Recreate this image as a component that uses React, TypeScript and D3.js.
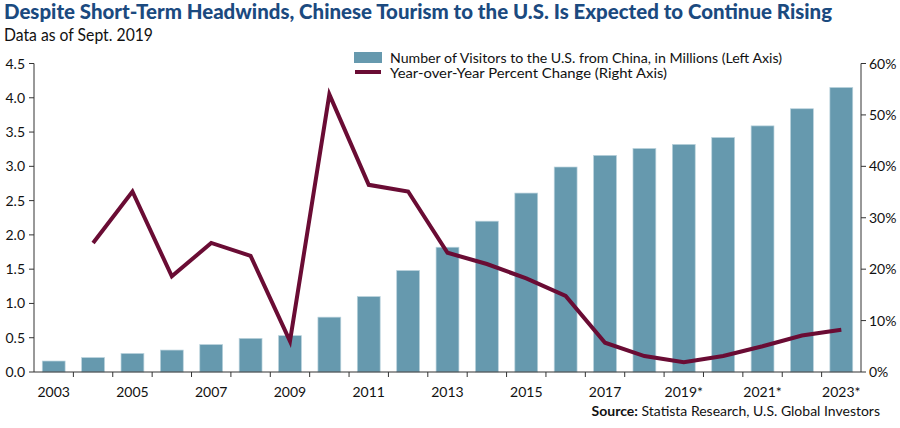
import React from "react";
import * as d3 from "d3";

const years = ["2003","2004","2005","2006","2007","2008","2009","2010","2011","2012","2013","2014","2015","2016","2017","2018","2019","2020","2021","2022","2023"];
const xLabels = ["2003","","2005","","2007","","2009","","2011","","2013","","2015","","2017","","2019*","","2021*","","2023*"];
const visitors = [0.16,0.21,0.27,0.32,0.40,0.49,0.53,0.80,1.10,1.48,1.82,2.20,2.61,2.99,3.16,3.26,3.32,3.42,3.59,3.84,4.15];
const pctChange: (number | null)[] = [null,25.1,35.1,18.6,25.1,22.6,6.0,54.0,36.4,35.1,23.2,21.0,18.2,14.8,5.7,3.1,1.9,3.1,5.0,7.1,8.2];
const leftTicks = [0,0.5,1,1.5,2,2.5,3,3.5,4,4.5];
const rightTicks = [0,10,20,30,40,50,60];

const W = 900, H = 428;
const L = 34, R = 861, T = 63.5, B = 372;
const font = "Lato, 'Open Sans', sans-serif";
const axisColor = "#333";

export default function App() {
  const x = d3.scaleBand<string>().domain(years).range([L, R]).paddingInner(0.42).paddingOuter(0.21);
  const yL = d3.scaleLinear().domain([0, 4.5]).range([B, T]);
  const yR = d3.scaleLinear().domain([0, 60]).range([B, T]);
  const step = x.step();
  const pts = years.map((yr, i) => ({ yr, v: pctChange[i] })).filter(d => d.v !== null) as { yr: string; v: number }[];
  const line = d3.line<{ yr: string; v: number }>()
    .x(d => (x(d.yr) as number) + x.bandwidth() / 2)
    .y(d => yR(d.v));
  return (
    <svg width={W} height={H} style={{ position: "absolute", left: 0, top: 0, background: "#fff" }} fontFamily={font}>
      <text x={4} y={19} fontSize={20} fontWeight={900} fill="#1b4a7f" textLength={828} lengthAdjust="spacingAndGlyphs">
        Despite Short-Term Headwinds, Chinese Tourism to the U.S. Is Expected to Continue Rising
      </text>
      <text x={4} y={41} fontSize={16.5} fill="#111" textLength={149} lengthAdjust="spacingAndGlyphs">Data as of Sept. 2019</text>

      {years.map((yr, i) => (
        <rect key={yr} x={x(yr)} y={yL(visitors[i])} width={x.bandwidth()} height={B - yL(visitors[i])}
          fill="#6699ae" stroke="#b9d2dc" strokeWidth={0.7} />
      ))}
      <path d={line(pts) || ""} fill="none" stroke="#6a0c34" strokeWidth={4} strokeLinejoin="miter" />

      <line x1={L} x2={L} y1={T} y2={B} stroke={axisColor} strokeWidth={1} />
      <line x1={R} x2={R} y1={T} y2={B} stroke={axisColor} strokeWidth={1} />
      <line x1={L} x2={R} y1={B} y2={B} stroke={axisColor} strokeWidth={1.2} />
      {leftTicks.map(t => (
        <g key={"l" + t}>
          <line x1={L - 5} x2={L} y1={yL(t)} y2={yL(t)} stroke={axisColor} />
          <text x={25} y={yL(t) + 5} fontSize={14} textAnchor="end" fill="#111">{t.toFixed(1)}</text>
        </g>
      ))}
      {rightTicks.map(t => (
        <g key={"r" + t}>
          <line x1={R} x2={R + 5} y1={yR(t)} y2={yR(t)} stroke={axisColor} />
          <text x={869} y={yR(t) + 5} fontSize={14} textAnchor="start" fill="#111">{t + "%"}</text>
        </g>
      ))}
      {years.slice(1).map((yr) => (
        <line key={"t" + yr} x1={(x(yr) as number) - step * 0.21} x2={(x(yr) as number) - step * 0.21} y1={B} y2={B + 5} stroke={axisColor} />
      ))}
      {years.map((yr, i) => xLabels[i] ? (
        <text key={"x" + yr} x={(x(yr) as number) + x.bandwidth() / 2} y={397} fontSize={14} textAnchor="middle" fill="#111">{xLabels[i]}</text>
      ) : null)}

      <rect x={354} y={52} width={28} height={11} fill="#6699ae" />
      <text x={390} y={63} fontSize={13.5} fill="#111" textLength={392} lengthAdjust="spacingAndGlyphs">Number of Visitors to the U.S. from China, in Millions (Left Axis)</text>
      <line x1={355} x2={381} y1={72} y2={72} stroke="#6a0c34" strokeWidth={4} />
      <text x={390} y={78} fontSize={13.5} fill="#111" textLength={277} lengthAdjust="spacingAndGlyphs">Year-over-Year Percent Change (Right Axis)</text>

      <text x={880} y={416} fontSize={14} textAnchor="end" fill="#111">
        <tspan fontWeight={700}>Source:</tspan> Statista Research, U.S. Global Investors
      </text>
    </svg>
  );
}
